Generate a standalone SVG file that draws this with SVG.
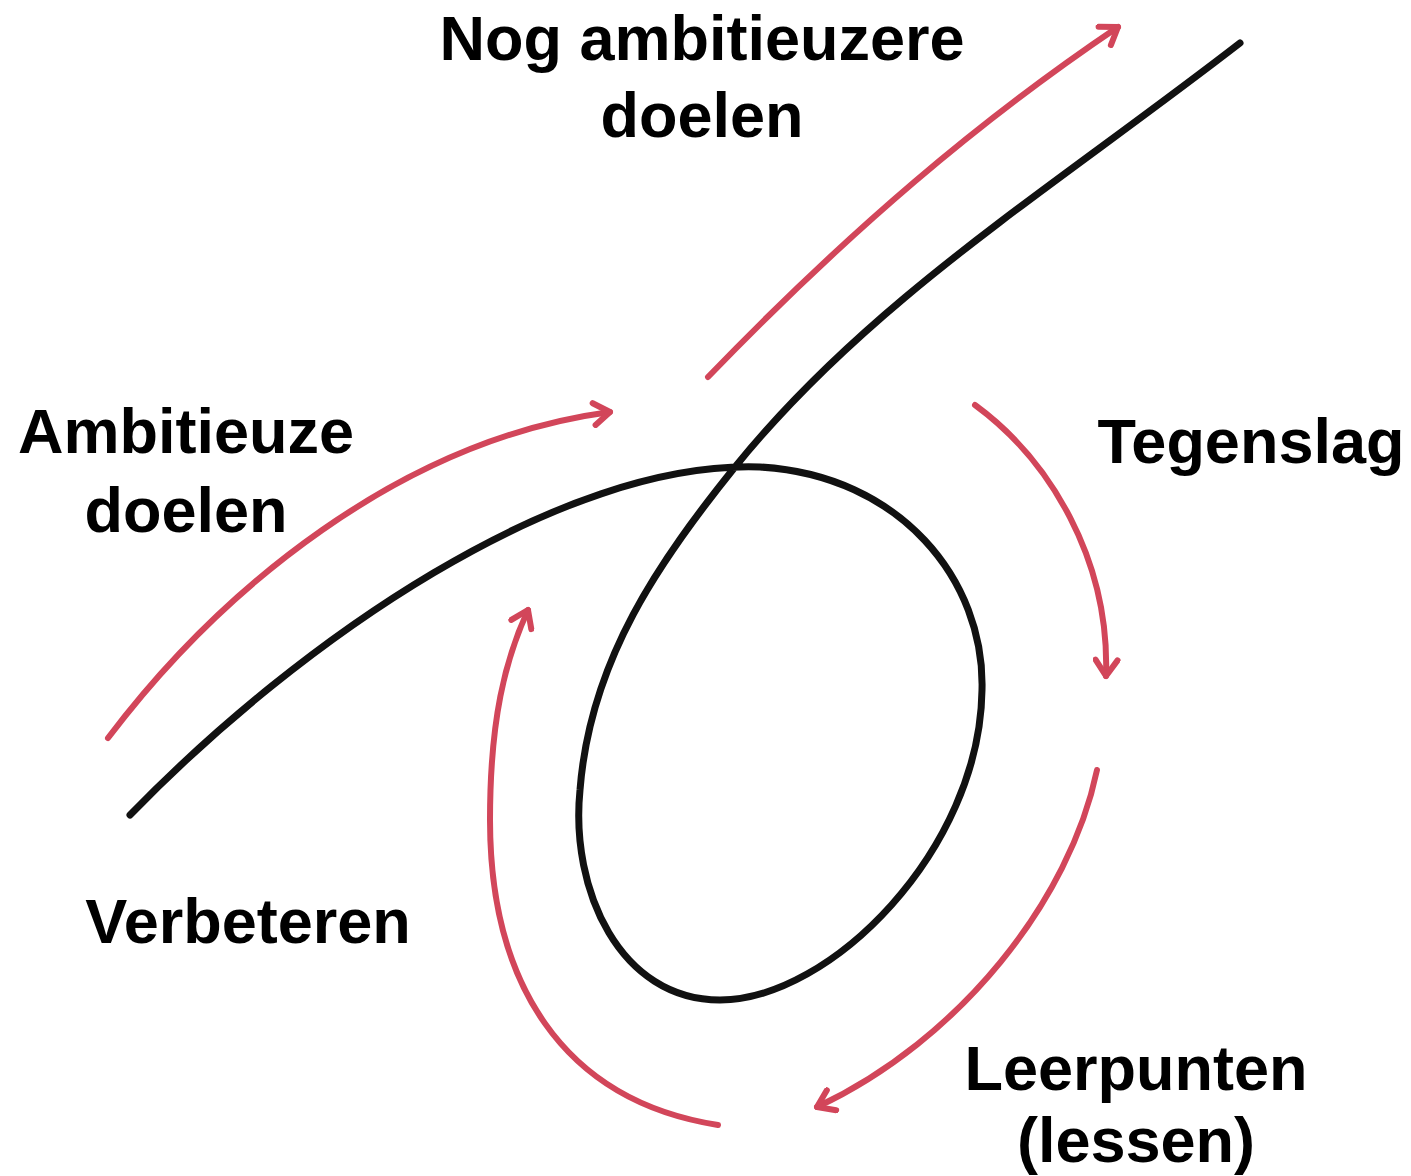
<svg xmlns="http://www.w3.org/2000/svg" width="1411" height="1176" viewBox="0 0 1411 1176">
<defs>
<style>
.lbl{font-family:"Liberation Sans",Arial,sans-serif;font-weight:bold;font-size:63px;fill:#000;text-anchor:middle}
.red{fill:none;stroke:#d2465a;stroke-width:6;stroke-linecap:round}
.blk{fill:none;stroke:#111;stroke-width:7;stroke-linecap:round;stroke-linejoin:round}
</style>
<marker id="ah" viewBox="-20 -14 24 28" markerWidth="24" markerHeight="28" refX="0" refY="0" orient="auto" markerUnits="userSpaceOnUse">
<path d="M-16,-11 L0,0 L-16,11" fill="none" stroke="#d2465a" stroke-width="6" stroke-linecap="round" stroke-linejoin="round"/>
</marker>
</defs>
<rect width="1411" height="1176" fill="#fff"/>
<g id="curve">
<path class="blk" d="M130,815 C 300,640 560,460 760,467 C 900,475 985,580 982,690 C 980,850 830,1000 720,1000 C 620,1000 570,890 580,790 C 590,660 660,560 735,467 C 870,300 1050,190 1240,43"/>
</g>
<g id="connectors">
<path class="red" marker-end="url(#ah)" d="M108,738 C 220,590 400,440 610,412"/>
<path class="red" marker-end="url(#ah)" d="M708,377 C 850,230 980,120 1118,27"/>
<path class="red" marker-end="url(#ah)" d="M975,405 C 1050,460 1110,560 1106,676"/>
<path class="red" marker-end="url(#ah)" d="M1097,770 C 1070,900 960,1040 817,1107"/>
<path class="red" marker-end="url(#ah)" d="M718,1125 C 560,1100 490,980 490,820 C 490,720 505,660 528,610"/>
</g>
<g id="n-nog"><text class="lbl" x="702" y="60">Nog ambitieuzere</text><text class="lbl" x="702" y="137">doelen</text></g>
<g id="n-ambitieuze"><text class="lbl" x="186" y="453">Ambitieuze</text><text class="lbl" x="186" y="532">doelen</text></g>
<g id="n-tegenslag"><text class="lbl" x="1251" y="463">Tegenslag</text></g>
<g id="n-leerpunten"><text class="lbl" x="1136" y="1090">Leerpunten</text><text class="lbl" x="1136" y="1162">(lessen)</text></g>
<g id="n-verbeteren"><text class="lbl" x="248" y="943">Verbeteren</text></g>
</svg>
